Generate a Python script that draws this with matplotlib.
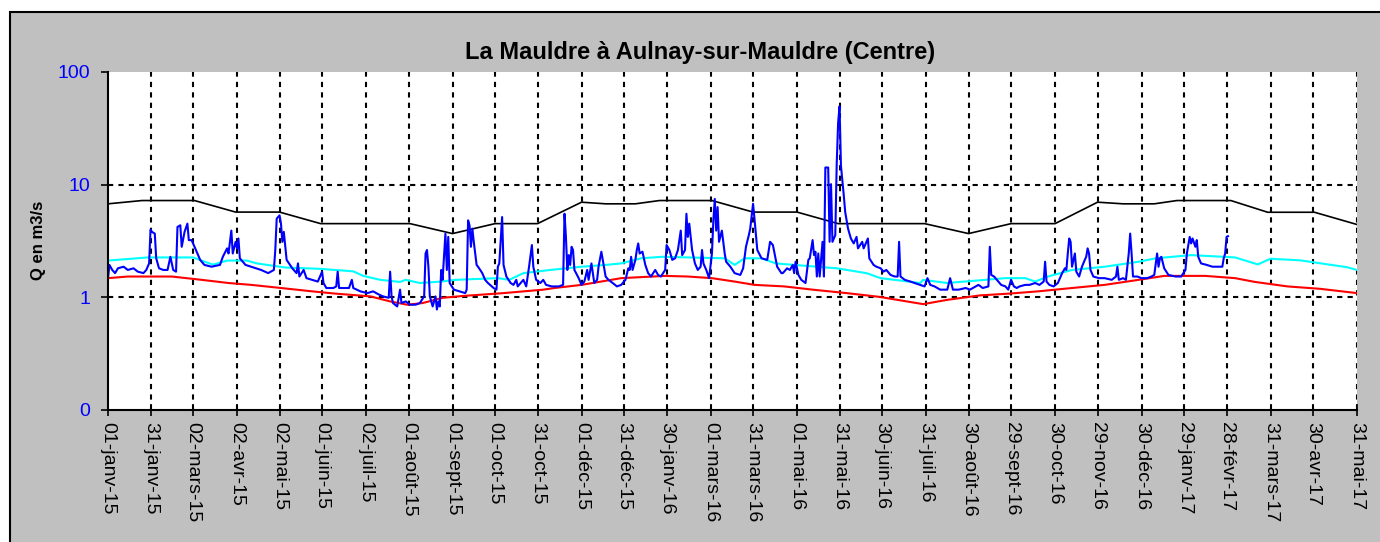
import matplotlib
matplotlib.use("Agg")
import matplotlib.pyplot as plt
import matplotlib.patches as patches
import pandas as pd

plt.rcParams["font.family"] = ["Liberation Sans", "DejaVu Sans"]

start = pd.Timestamp("2015-01-01")

# daily flow (day offset from 01-janv-15, m3/s)
flow_days = [0, 1, 3, 5, 7, 11, 14, 18, 21, 25, 27, 29, 30, 31, 33, 34, 36, 39, 42, 44, 46, 48, 49, 51, 52, 54,
             56, 57, 59, 61, 65, 68, 73, 79, 81, 84, 85, 87, 88, 90, 91, 92, 93, 97, 101, 108, 113, 117, 118, 119,
             121, 122, 123, 124, 126, 130, 133, 134, 135, 138, 140, 144, 148, 151, 152, 154,
             157, 159, 161, 162, 163, 166, 170, 172, 173, 178, 183, 187, 191, 194, 198, 199, 200, 201, 204, 206,
             207, 210, 213, 217, 220, 223, 224, 225, 226, 227, 229, 231, 232, 233, 234, 235, 236, 238, 239, 240,
             241, 244, 248, 252, 253, 254, 255, 256, 257, 258, 260, 261, 264, 266, 268, 272, 274, 275, 276, 278,
             279, 281, 284, 286, 288, 289, 293, 295, 297, 299, 300, 302, 305, 307, 309, 313, 316,
             318, 321, 322, 323, 324, 325, 326, 327, 328, 329, 332, 334, 336, 338, 339, 341, 342, 343, 345, 346,
             348, 349, 351, 353, 356, 359, 362, 365, 367, 368, 369, 370, 372, 373, 374, 375, 377, 379, 381, 383,
             386, 388, 390, 393, 394, 396, 398, 400, 402, 404, 405, 407, 408, 409, 410, 412, 414, 416, 418, 419,
             420, 422, 424, 426, 427, 428, 429, 430, 431, 433, 435, 436, 439, 442, 446, 448, 450, 452, 453, 455,
             456, 458, 461, 465, 467, 469, 472, 475,
             476, 479, 481, 483, 484, 485, 487, 489, 492, 494, 495, 497, 498, 499, 500, 501, 502, 504, 505, 506,
             508, 509, 510, 511, 513, 514, 515, 516, 517, 519, 520, 522, 524, 526, 528, 529, 532, 533, 536, 537,
             540, 542, 545, 547, 549, 552, 555, 557, 558, 559, 562, 566, 569, 573, 576, 578, 580, 583, 587, 592,
             594, 596, 600, 605, 608, 612, 614, 617, 621, 622, 623, 625, 627, 630, 633, 635,
             637, 639, 641, 643, 647, 650, 654, 657, 660, 661, 662, 664, 667, 670, 673, 675, 676, 677, 678, 679,
             680, 682, 683, 685, 687, 689, 690, 691, 692, 693, 695, 699, 703, 708, 711, 712, 713, 716, 718, 720,
             721, 722, 723, 726, 729, 733, 736, 738, 740, 741, 742, 743, 745, 748, 753, 757, 760, 761, 763, 764,
             765, 767, 768, 769, 771, 775, 779, 783, 786, 787, 788, 789, 790]
flow_vals = [1.48, 1.94, 1.75, 1.64, 1.81, 1.87, 1.75, 1.81, 1.69, 1.64, 1.75, 2.0, 3.99, 3.81, 3.68, 2.22, 1.81,
             1.75, 1.75, 2.29, 1.75, 1.69, 4.21, 4.36, 2.81, 3.81, 4.51, 3.22, 3.22, 2.81, 2.15, 1.94, 1.87, 1.94,
             2.29, 2.72, 2.45, 3.91, 2.45, 3.11, 2.72, 3.33, 2.22, 1.94, 1.87, 1.75, 1.64, 1.75, 2.63, 4.99, 5.34,
             4.51, 3.11, 3.81, 2.15, 1.81, 1.64, 2.0, 1.53, 1.75, 1.48, 1.43, 1.38, 1.69, 1.34, 1.21,
             1.21, 1.21, 1.25, 1.69, 1.21, 1.21, 1.21, 1.43, 1.21, 1.13, 1.09, 1.13, 1.06, 1.02, 0.99, 1.69, 1.02,
             0.89, 0.83, 1.17, 0.89, 0.92, 0.86, 0.86, 0.89, 1.02, 2.45, 2.63, 1.87, 1.02, 0.83, 1.02, 0.78, 0.92,
             0.83, 1.75, 1.43, 3.68, 1.75, 3.44, 1.34, 1.17, 1.13, 1.09, 1.17, 4.82, 4.36, 2.81, 4.07, 3.11, 1.94,
             1.87, 1.64, 1.43, 1.34, 1.21, 1.17, 1.87, 2.0, 5.16, 1.94, 1.53, 1.34, 1.29, 1.43, 1.25, 1.43, 1.25,
             1.87, 2.91, 1.87, 1.43, 1.34, 1.43, 1.29, 1.25, 1.25,
             1.25, 1.29, 5.52, 3.44, 1.75, 2.37, 1.94, 2.81, 2.63, 1.75, 1.48, 1.29, 1.38, 1.75, 1.43, 2.0, 1.64,
             1.34, 1.43, 1.87, 2.54, 2.15, 1.53, 1.43, 1.34, 1.25, 1.29, 1.43, 1.81, 1.75, 2.29, 1.75, 2.15, 2.63,
             3.01, 2.45, 2.54, 1.94, 1.64, 1.53, 1.75, 1.58, 1.53, 1.75, 2.91, 2.63, 2.15, 2.22, 2.63, 3.91, 2.37,
             2.63, 5.52, 3.44, 4.51, 2.63, 2.0, 1.75, 1.87, 2.63, 2.0, 1.75, 1.48, 2.45, 4.82, 7.47, 3.91, 6.32,
             3.11, 3.91, 2.45, 2.07, 1.87, 1.64, 1.58, 1.81, 2.81, 3.56, 4.07, 6.76, 4.99, 2.63, 2.22, 2.15, 3.11,
             2.91, 1.87, 1.64,
             1.64, 1.81, 1.75, 1.94, 1.64, 2.07, 1.58, 1.43, 1.34, 2.15, 2.22, 3.22, 2.37, 2.54, 1.53, 2.45, 1.53,
             3.11, 1.53, 14.2, 14.2, 3.11, 10.1, 3.11, 3.56, 15.2, 35.3, 49.5, 14.7, 8.0, 5.71, 4.07, 3.33, 3.01,
             3.44, 2.72, 3.11, 2.72, 3.33, 2.22, 1.94, 1.87, 1.81, 1.69, 1.75, 1.58, 1.53, 1.53, 3.11, 1.53, 1.43,
             1.38, 1.34, 1.29, 1.25, 1.48, 1.29, 1.25, 1.17, 1.17, 1.48, 1.17, 1.17, 1.21, 1.17, 1.25, 1.29, 1.21,
             1.25, 2.81, 1.58, 1.53, 1.43, 1.29, 1.25, 1.17,
             1.43, 1.25, 1.21, 1.25, 1.29, 1.29, 1.34, 1.29, 1.38, 2.07, 1.38, 1.29, 1.25, 1.34, 1.64, 1.81, 1.75,
             2.45, 3.33, 3.11, 1.87, 2.45, 1.69, 1.53, 1.87, 2.15, 2.29, 2.72, 2.45, 1.75, 1.53, 1.48, 1.48, 1.43,
             1.53, 1.87, 1.43, 1.48, 1.43, 2.45, 3.68, 2.45, 1.53, 1.53, 1.48, 1.48, 1.53, 1.58, 2.45, 1.87, 2.22,
             2.29, 1.81, 1.58, 1.53, 1.53, 1.75, 2.45, 3.44, 3.01, 3.33, 2.81, 3.22, 2.29, 2.0, 1.94, 1.87, 1.87,
             1.87, 2.22, 2.45, 3.44, 3.49]

# high reference curve (black)
high_days = [0, 24, 61, 90, 121, 150, 213, 243, 273, 303, 334, 351, 372, 389, 426, 455, 486, 515, 576, 607,
             637, 668, 698, 716, 738, 754, 792, 818, 851, 881]
high_vals = [6.76, 7.23, 7.23, 5.71, 5.71, 4.51, 4.51, 3.68, 4.51, 4.51, 6.99, 6.76, 6.76, 7.23, 7.23, 5.71,
             5.71, 4.51, 4.51, 3.68, 4.51, 4.51, 6.99, 6.76, 6.76, 7.23, 7.23, 5.69, 5.69, 4.43]

# median curve (cyan)
med_days = [0, 28, 60, 74, 84, 98, 105, 125, 150, 173, 180, 192, 206, 210, 220, 235, 245, 275, 283, 293, 312,
            334, 351, 362, 376, 391, 435, 442, 449, 461, 471, 514, 535, 545, 573, 575, 592, 610, 633, 647, 654,
            663, 680, 703, 727, 739, 764, 795, 811, 820, 841, 874, 881]
med_vals = [2.12, 2.26, 2.26, 1.95, 2.12, 2.12, 2.0, 1.84, 1.79, 1.70, 1.55, 1.43, 1.37, 1.43, 1.34, 1.38, 1.43,
            1.48, 1.43, 1.64, 1.75, 1.87, 1.94, 2.0, 2.22, 2.29, 2.22, 1.94, 2.22, 2.22, 2.0, 1.81, 1.64, 1.48,
            1.34, 1.43, 1.34, 1.40, 1.48, 1.48, 1.38, 1.53, 1.75, 1.87, 2.07, 2.22, 2.37, 2.26, 1.96, 2.2, 2.13,
            1.85, 1.75]

# low reference curve (red)
low_days = [0, 14, 45, 66, 85, 101, 122, 144, 160, 185, 199, 211, 222, 236, 251, 279, 307, 315, 334, 362, 393,
            409, 426, 442, 456, 477, 497, 521, 544, 575, 592, 615, 636, 656, 680, 703, 727, 745, 774, 795, 809,
            832, 855, 881]
low_vals = [1.48, 1.53, 1.53, 1.43, 1.34, 1.29, 1.21, 1.13, 1.08, 1.02, 0.92, 0.86, 0.89, 0.99, 1.03, 1.09, 1.17,
            1.21, 1.29, 1.48, 1.55, 1.53, 1.48, 1.38, 1.29, 1.25, 1.17, 1.09, 1.01, 0.87, 0.95, 1.04, 1.08, 1.13,
            1.21, 1.29, 1.43, 1.55, 1.55, 1.48, 1.37, 1.25, 1.19, 1.09]

tick_dates = ["2015-01-01", "2015-01-31", "2015-03-02", "2015-04-02", "2015-05-02", "2015-06-01", "2015-07-02",
              "2015-08-01", "2015-09-01", "2015-10-01", "2015-10-31", "2015-12-01", "2015-12-31", "2016-01-30",
              "2016-03-01", "2016-03-31", "2016-05-01", "2016-05-31", "2016-06-30", "2016-07-31", "2016-08-30",
              "2016-09-29", "2016-10-30", "2016-11-29", "2016-12-30", "2017-01-29", "2017-02-28", "2017-03-31",
              "2017-04-30", "2017-05-31"]
tick_labels = ["01-janv-15", "31-janv-15", "02-mars-15", "02-avr-15", "02-mai-15", "01-juin-15", "02-juil-15",
               "01-août-15", "01-sept-15", "01-oct-15", "31-oct-15", "01-déc-15", "31-déc-15", "30-janv-16",
               "01-mars-16", "31-mars-16", "01-mai-16", "31-mai-16", "30-juin-16", "31-juil-16", "30-août-16",
               "29-sept-16", "30-oct-16", "29-nov-16", "30-déc-16", "29-janv-17", "28-févr-17", "31-mars-17",
               "30-avr-17", "31-mai-17"]


def to_dates(days):
    return start + pd.to_timedelta(days, unit="D")


fig = plt.figure(figsize=(13.8, 5.42), dpi=100, facecolor="white")
frame = patches.Rectangle((10 / 1380, -0.1), 1.2, 0.1 + 530 / 542, transform=fig.transFigure,
                          facecolor="#C0C0C0", edgecolor="black", linewidth=1.5, zorder=-10)
fig.patches.append(frame)

ax = fig.add_axes([108 / 1380, 132 / 542, 1249 / 1380, 338 / 542])
ax.set_zorder(1)
ax.set_facecolor("white")

ax.plot(to_dates(high_days), high_vals, color="black", linewidth=1.2, zorder=3)
ax.plot(to_dates(med_days), med_vals, color="#00FFFF", linewidth=1.5, zorder=3)
ax.plot(to_dates(low_days), low_vals, color="#FF0000", linewidth=1.5, zorder=3)
ax.plot(to_dates(flow_days), flow_vals, color="#0000FF", linewidth=1.5, zorder=4)

ax.set_yscale("log")
ax.set_ylim(0.1, 100)
ax.set_yticks([0.1, 1, 10, 100])
ax.set_yticklabels(["0", "1", "10", "100"], color="#0000FF", fontsize=14)
ax.yaxis.set_minor_locator(matplotlib.ticker.NullLocator())

ticks = pd.to_datetime(tick_dates)
ax.set_xlim(ticks[0], ticks[-1])
ax.set_xticks(ticks)
ax.set_xticklabels(tick_labels, rotation=270, fontsize=14, va="top", ha="center")

grid_style = dict(color="black", linewidth=1.5, linestyle=(0, (2.5, 2.5)), zorder=2)
for t in ticks[1:]:
    ax.axvline(t, **grid_style)
for yv in [1, 10]:
    ax.axhline(yv, **grid_style)

for side in ["top", "right"]:
    ax.spines[side].set_visible(False)
for side in ["left", "bottom"]:
    ax.spines[side].set_linewidth(1.5)
    ax.spines[side].set_zorder(5)
ax.tick_params(axis="x", direction="inout", length=9, width=1.2, pad=4)
ax.tick_params(axis="y", direction="out", length=5, width=1.2, pad=8)

fig.text(700 / 1380, 1 - 53 / 542, "La Mauldre à Aulnay-sur-Mauldre (Centre)", ha="center", va="center",
         fontsize=17, fontweight="bold")
fig.text(38 / 1380, 1 - 240 / 542, "Q en m3/s", ha="center", va="center", rotation=90, fontsize=12,
         fontweight="bold")

fig.savefig("out.png", dpi=100, facecolor=fig.get_facecolor())
